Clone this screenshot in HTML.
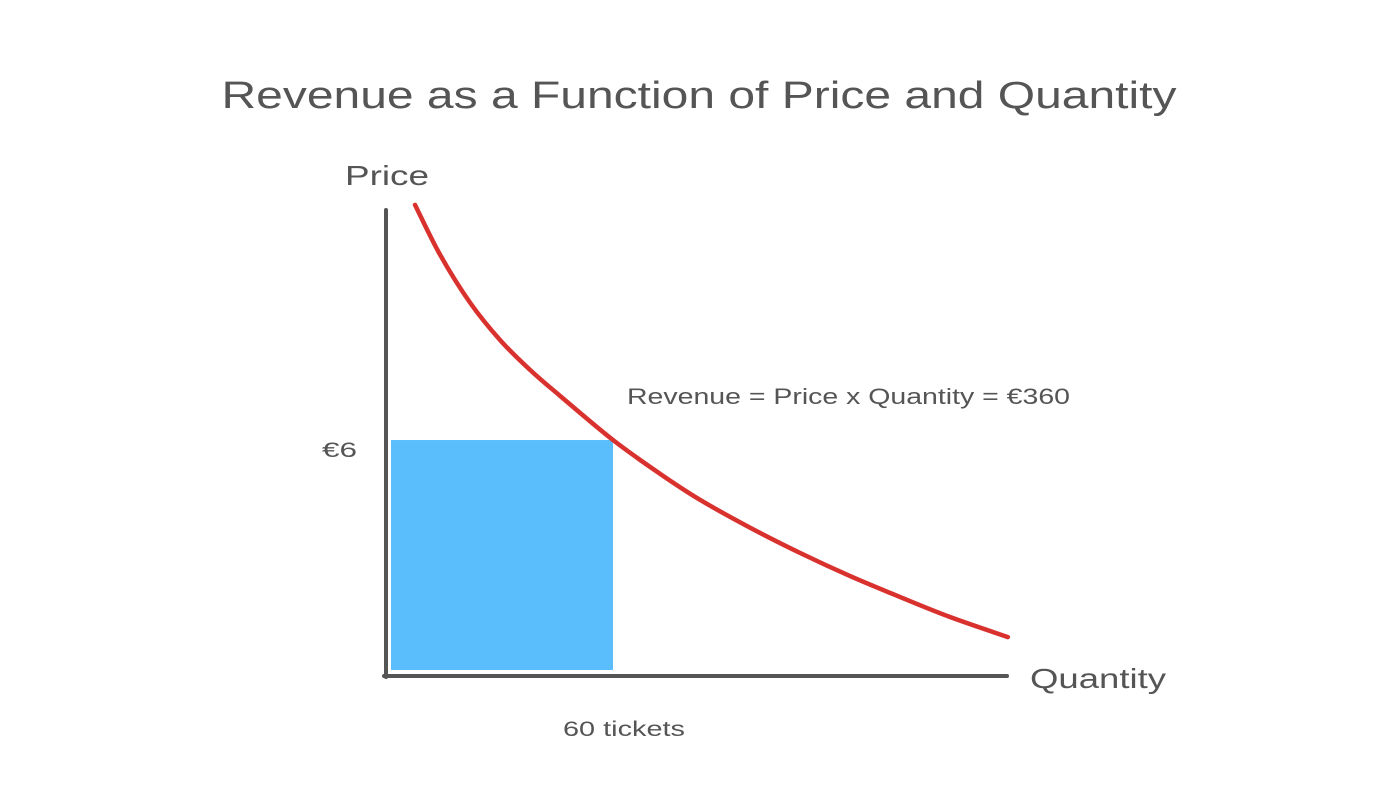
<!DOCTYPE html>
<html><head><meta charset="utf-8">
<style>
html,body{margin:0;padding:0;background:#fff;}
svg{display:block;}
text{font-family:"Liberation Sans","DejaVu Sans",sans-serif;fill:#555;}
</style></head>
<body>
<svg width="1400" height="788" viewBox="0 0 1400 788">
<text x="699" y="108" text-anchor="middle" font-size="38" textLength="955" lengthAdjust="spacingAndGlyphs">Revenue as a Function of Price and Quantity</text>
<rect id="rev" fill="#5bbefc"></rect>
<line x1="386" y1="210" x2="386" y2="677" stroke="#555" stroke-width="4" stroke-linecap="round"/>
<line x1="384" y1="676" x2="1007" y2="676" stroke="#555" stroke-width="4" stroke-linecap="round"/>
<path id="curve" fill="none" stroke="#d9322e" stroke-width="4.5" stroke-linecap="round" stroke-linejoin="round"></path>
<text x="345" y="185" font-size="28" textLength="84" lengthAdjust="spacingAndGlyphs">Price</text>
<text x="1030" y="688" font-size="28" textLength="136" lengthAdjust="spacingAndGlyphs">Quantity</text>
<text id="plabel" x="322" y="457" font-size="21" textLength="35" lengthAdjust="spacingAndGlyphs">€6</text>
<text id="qlabel" x="624" y="736" text-anchor="middle" font-size="21" textLength="122" lengthAdjust="spacingAndGlyphs">60 tickets</text>
<text id="rlabel" x="627" y="404" font-size="22" textLength="443" lengthAdjust="spacingAndGlyphs">Revenue = Price x Quantity = €360</text>
</svg>
<script>
const curveQuantity = [7.9, 14.5, 22.4, 30.3, 38.2, 46.1, 60, 72.4, 82.9, 96.1, 109.2, 122.4, 135.5, 148.7, 163.9];
const curvePrice = [11.98, 10.71, 9.49, 8.54, 7.78, 7.12, 6, 5.14, 4.48, 3.77, 3.13, 2.54, 2.01, 1.5, 0.99];
const selectedQuantity = [60];
const selectedPrice = [6];
function xs(q){return 385 + q*3.8;}
function ys(p){return 676 - p*39.33;}
const pts = curveQuantity.map((q,i)=>[xs(q), ys(curvePrice[i])]);
let d = 'M'+pts[0][0]+','+pts[0][1];
for(let i=0;i<pts.length-1;i++){
  const p0=pts[Math.max(i-1,0)],p1=pts[i],p2=pts[i+1],p3=pts[Math.min(i+2,pts.length-1)];
  const c1=[p1[0]+(p2[0]-p0[0])/6,p1[1]+(p2[1]-p0[1])/6];
  const c2=[p2[0]-(p3[0]-p1[0])/6,p2[1]-(p3[1]-p1[1])/6];
  d+=' C'+c1+' '+c2+' '+p2;
}
document.getElementById('curve').setAttribute('d', d);
const r = document.getElementById('rev');
const x1 = xs(selectedQuantity[0]), y1 = ys(selectedPrice[0]);
r.setAttribute('x', 391); r.setAttribute('y', y1);
r.setAttribute('width', x1-391); r.setAttribute('height', 670-y1);
document.getElementById('plabel').setAttribute('y', y1+17);
document.getElementById('qlabel').setAttribute('x', x1+11);
</script>
</body></html>
